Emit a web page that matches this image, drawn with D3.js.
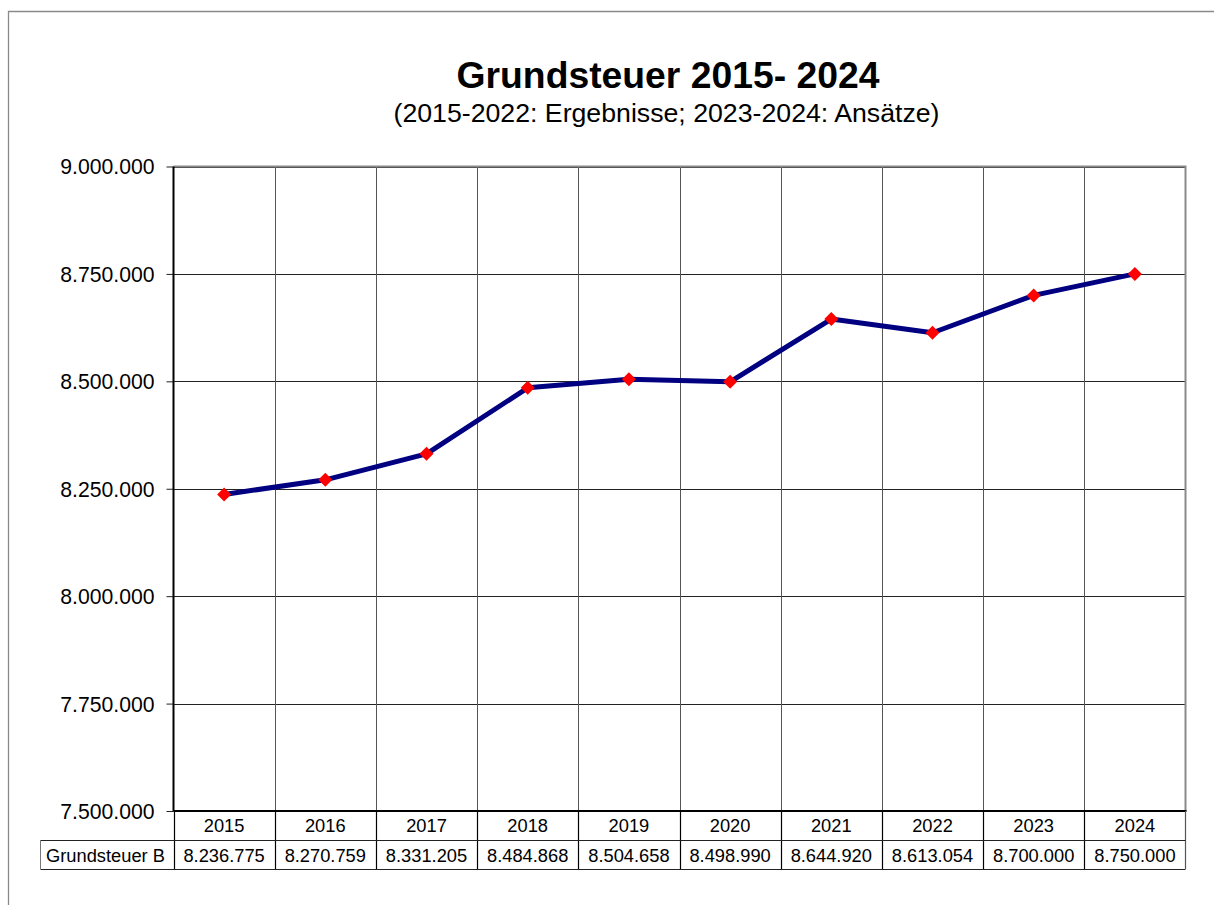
<!DOCTYPE html>
<html><head><meta charset="utf-8">
<script src="https://cdn.jsdelivr.net/npm/d3@7"></script>
<style>body{margin:0;background:#fff;}svg{display:block;font-family:Arial,"Liberation Sans",sans-serif;}</style>
</head><body>
<svg id="c" width="1214" height="905"></svg>
<script>
const years = ["2015","2016","2017","2018","2019","2020","2021","2022","2023","2024"];
const values = [8236775, 8270759, 8331205, 8484868, 8504658, 8498990, 8644920, 8613054, 8700000, 8750000];
const yTicks = [7500000, 7750000, 8000000, 8250000, 8500000, 8750000, 9000000];
const seriesName = "Grundsteuer B";
const title = "Grundsteuer 2015- 2024";
const subtitle = "(2015-2022: Ergebnisse; 2023-2024: Ansätze)";

const fmt = v => d3.format(",")(v).replace(/,/g, ".");
const svg = d3.select("#c");
const L = 173.5, R = 1185.5, T = 166.5, B = 811;
const x = d3.scaleBand().domain(years).range([L, R]).padding(0);
const y = d3.scaleLinear().domain([7500000, 9000000]).range([B, T]);

// outer frame (top + left)
svg.append("path").attr("d", "M8.5,905 L8.5,11.5 L1214,11.5").attr("fill","none").attr("stroke","#8a8a8a").attr("stroke-width",1.3);

// titles
svg.append("text").attr("x", 668).attr("y", 88).attr("text-anchor","middle")
  .attr("font-size", 37.3).attr("font-weight","bold").text(title);
svg.append("text").attr("x", 666.5).attr("y", 122).attr("text-anchor","middle")
  .attr("font-size", 26.7).text(subtitle);

// horizontal grid
svg.append("g").selectAll("line").data(yTicks).join("line")
  .attr("x1", L).attr("x2", R).attr("y1", d => Math.round(y(d))+0.5).attr("y2", d => Math.round(y(d))+0.5)
  .attr("stroke", "#222").attr("stroke-width", 1);
// vertical grid
svg.append("g").selectAll("line").data(years.slice(1)).join("line")
  .attr("x1", d => Math.round(x(d))+0.5).attr("x2", d => Math.round(x(d))+0.5)
  .attr("y1", T).attr("y2", B).attr("stroke", "#555").attr("stroke-width", 1);

// top and right border (gray)
svg.append("path").attr("d", `M${L},${T} L${R},${T} L${R},${B}`).attr("fill","none").attr("stroke","#8a8a8a").attr("stroke-width",2);

// y axis
const yAxis = d3.axisLeft(y).tickValues(yTicks).tickFormat(fmt).tickSize(7).tickPadding(12);
const gy = svg.append("g").attr("transform", `translate(${L},0)`).call(yAxis);
gy.select(".domain").remove();
gy.selectAll(".tick line").attr("stroke","#222");
gy.selectAll(".tick text").attr("font-size", 21.2).attr("fill","#000").attr("font-family","Arial,'Liberation Sans',sans-serif").attr("dy","0.35em");
svg.append("line").attr("x1", L).attr("x2", L).attr("y1", T).attr("y2", B).attr("stroke","#000").attr("stroke-width",2);
svg.append("line").attr("x1", L).attr("x2", R+1).attr("y1", B).attr("y2", B).attr("stroke","#000").attr("stroke-width",2);

// data table
const rowH1 = 840, rowH2 = 869, labL = 40.5;
const tbl = svg.append("g");
tbl.selectAll("line.col").data(years).join("line").attr("class","col")
  .attr("x1", d => Math.round(x(d))+0.5).attr("x2", d => Math.round(x(d))+0.5)
  .attr("y1", B).attr("y2", rowH2).attr("stroke","#000").attr("stroke-width",1.2);
tbl.append("line").attr("x1", R).attr("x2", R).attr("y1", B).attr("y2", rowH2).attr("stroke","#555").attr("stroke-width",1.2);
tbl.append("line").attr("x1", labL).attr("x2", R).attr("y1", rowH1+0.5).attr("y2", rowH1+0.5).attr("stroke","#222").attr("stroke-width",1);
tbl.append("line").attr("x1", labL).attr("x2", R).attr("y1", rowH2+0.5).attr("y2", rowH2+0.5).attr("stroke","#222").attr("stroke-width",1);
tbl.append("line").attr("x1", labL).attr("x2", labL).attr("y1", rowH1).attr("y2", rowH2).attr("stroke","#777").attr("stroke-width",1);
tbl.selectAll("text.yr").data(years).join("text").attr("class","yr")
  .attr("x", d => x(d) + x.bandwidth()/2).attr("y", 832).attr("text-anchor","middle")
  .attr("font-size", 18.3).text(d => d);
tbl.selectAll("text.val").data(values).join("text").attr("class","val")
  .attr("x", (d,i) => x(years[i]) + x.bandwidth()/2).attr("y", 861.5).attr("text-anchor","middle")
  .attr("font-size", 18.3).text(d => fmt(d));
tbl.append("text").attr("x", 105.5).attr("y", 861.5).attr("text-anchor","middle")
  .attr("font-size", 18.3).text(seriesName);

// line
const line = d3.line().x((d,i) => x(years[i]) + x.bandwidth()/2).y(d => y(d));
svg.append("path").datum(values).attr("d", line).attr("fill","none")
  .attr("stroke","#000080").attr("stroke-width",5).attr("stroke-linejoin","round");
// markers
svg.append("g").selectAll("path").data(values).join("path")
  .attr("d", d3.symbol().type(d3.symbolDiamond2).size(125))
  .attr("transform", (d,i) => `translate(${x(years[i]) + x.bandwidth()/2},${y(d)})`)
  .attr("fill","#ff0000");
</script>
</body></html>
